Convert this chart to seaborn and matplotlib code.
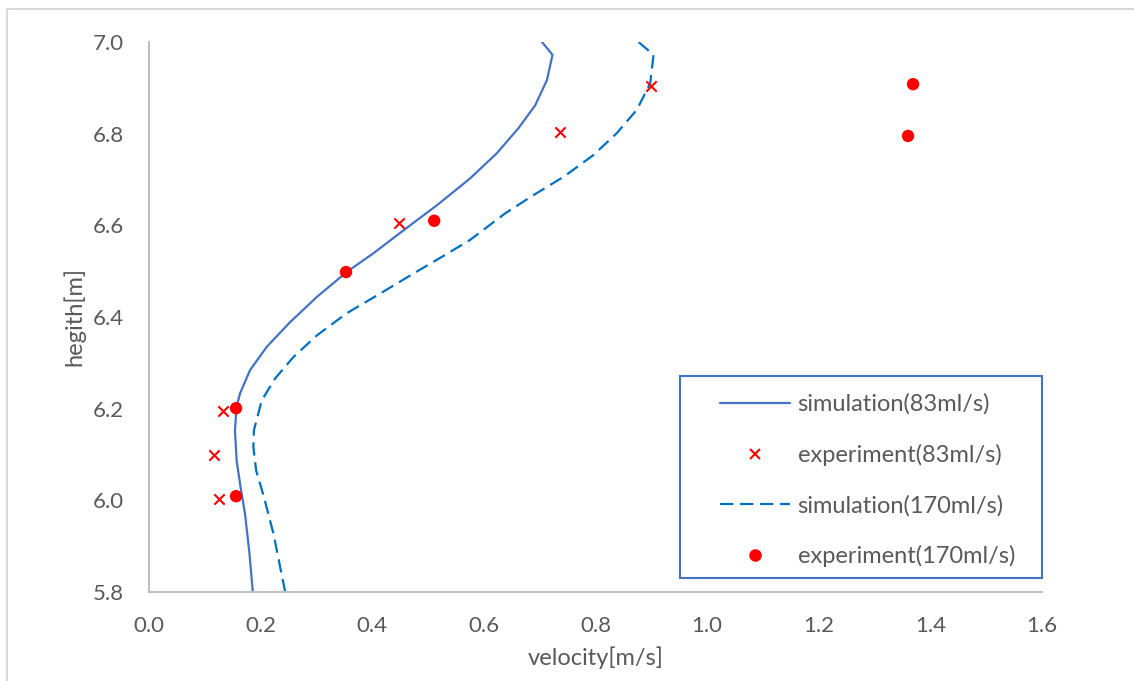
import matplotlib
matplotlib.use("Agg")
import matplotlib.pyplot as plt
from matplotlib.patches import Rectangle
from matplotlib.lines import Line2D
import seaborn as sns

# Simulated velocity profiles (velocity vs. height), bottom to top
sim83_height = [5.800, 5.884, 5.971, 6.029, 6.087, 6.153, 6.204, 6.233, 6.284, 6.335,
                6.389, 6.444, 6.498, 6.539, 6.590, 6.644, 6.702, 6.757, 6.812, 6.862,
                6.917, 6.972, 7.000]
sim83_velocity = [0.186, 0.180, 0.172, 0.164, 0.157, 0.154, 0.157, 0.163, 0.181, 0.211,
                  0.253, 0.301, 0.354, 0.402, 0.457, 0.516, 0.575, 0.623, 0.662, 0.692,
                  0.713, 0.723, 0.704]

sim170_height = [5.800, 5.927, 6.007, 6.065, 6.116, 6.153, 6.218, 6.266, 6.313, 6.360,
                 6.408, 6.451, 6.495, 6.535, 6.568, 6.626, 6.666, 6.706, 6.753, 6.801,
                 6.852, 6.910, 6.972, 7.000]
sim170_velocity = [0.244, 0.223, 0.206, 0.192, 0.187, 0.188, 0.202, 0.226, 0.259, 0.301,
                   0.354, 0.414, 0.474, 0.530, 0.575, 0.638, 0.689, 0.743, 0.796, 0.838,
                   0.874, 0.898, 0.904, 0.877]

# Measured velocities
exp83_height = [6.004, 6.100, 6.195, 6.606, 6.803, 6.903]
exp83_velocity = [0.126, 0.117, 0.132, 0.448, 0.737, 0.900]

exp170_height = [6.009, 6.201, 6.498, 6.610, 6.795, 6.908]
exp170_velocity = [0.156, 0.156, 0.353, 0.511, 1.360, 1.369]

x_ticks = [0.0, 0.2, 0.4, 0.6, 0.8, 1.0, 1.2, 1.4, 1.6]
y_ticks = [5.8, 6.0, 6.2, 6.4, 6.6, 6.8, 7.0]

labels = ["simulation(83ml/s)", "experiment(83ml/s)",
          "simulation(170ml/s)", "experiment(170ml/s)"]

sns.set_theme(style="white")
plt.rcParams["font.family"] = ["Lato", "DejaVu Sans"]

TEXT = "#595959"
AXIS = "#BFBFBF"
LINE1 = "#4472C4"
LINE2 = "#0070C0"
RED = "#FF0000"

fig = plt.figure(figsize=(11.34, 6.81), dpi=100)
ax = fig.add_axes([149 / 1134, 1 - 592 / 681, (1042 - 149) / 1134, (592 - 42) / 681])

sns.lineplot(x=sim83_velocity, y=sim83_height, sort=False, estimator=None,
             color=LINE1, linewidth=1.6, ax=ax, label=labels[0], legend=False)
sns.scatterplot(x=exp83_velocity, y=exp83_height, marker="x", s=55, color=RED,
                linewidth=1.5, ax=ax, label=labels[1], legend=False, zorder=3)
sns.lineplot(x=sim170_velocity, y=sim170_height, sort=False, estimator=None,
             color=LINE2, linewidth=1.6, linestyle=(0, (6, 3)), ax=ax,
             label=labels[2], legend=False)
sns.scatterplot(x=exp170_velocity, y=exp170_height, marker="o", s=80, color=RED,
                edgecolor="none", ax=ax, label=labels[3], legend=False, zorder=3)

ax.set_xlim(0.0, 1.6)
ax.set_ylim(5.8, 7.0)
ax.set_xticks(x_ticks)
ax.set_yticks(y_ticks)
ax.set_xticklabels([f"{v:.1f}" for v in x_ticks])
ax.set_yticklabels([f"{v:.1f}" for v in y_ticks])
ax.tick_params(axis="both", length=0, labelsize=16, labelcolor=TEXT)
ax.tick_params(axis="x", pad=17)
ax.tick_params(axis="y", pad=18)

ax.set_xlabel("velocity[m/s]", fontsize=17, color=TEXT, labelpad=8)
ax.set_ylabel("hegith[m]", fontsize=17, color=TEXT, labelpad=5)

for side in ["top", "right"]:
    ax.spines[side].set_visible(False)
for side in ["left", "bottom"]:
    ax.spines[side].set_color(AXIS)
    ax.spines[side].set_linewidth(1.5)
ax.grid(False)

# Legend frame box
box = Rectangle((0.5946, 0.0255), 0.405, 0.367, transform=ax.transAxes,
                facecolor="white", edgecolor=LINE1, linewidth=1.5, zorder=4,
                clip_on=False)
ax.add_patch(box)

handles = [
    Line2D([], [], color=LINE1, linewidth=1.6),
    Line2D([], [], color=RED, marker="x", linestyle="none", markersize=7.5,
           markeredgewidth=1.5),
    Line2D([], [], color=LINE2, linewidth=1.6, linestyle=(0, (6, 3))),
    Line2D([], [], color=RED, marker="o", linestyle="none", markersize=9,
           markeredgewidth=0),
]
leg = ax.legend(handles, labels, loc="upper left", bbox_to_anchor=(0.639, 0.361),
                frameon=False, fontsize=17, handlelength=3.0, handletextpad=0.3,
                labelspacing=1.22, borderpad=0, borderaxespad=0, numpoints=1)
leg.set_zorder(5)
for t in leg.get_texts():
    t.set_color(TEXT)

# Outer chart border (top and left edges)
fig.add_artist(Line2D([7 / 1134, 7 / 1134], [0, 1 - 9 / 681], color="#D9D9D9",
                      linewidth=1.5, transform=fig.transFigure))
fig.add_artist(Line2D([7 / 1134, 1], [1 - 9 / 681, 1 - 9 / 681], color="#D9D9D9",
                      linewidth=1.5, transform=fig.transFigure))

fig.savefig("out.png", dpi=100, facecolor="white")
